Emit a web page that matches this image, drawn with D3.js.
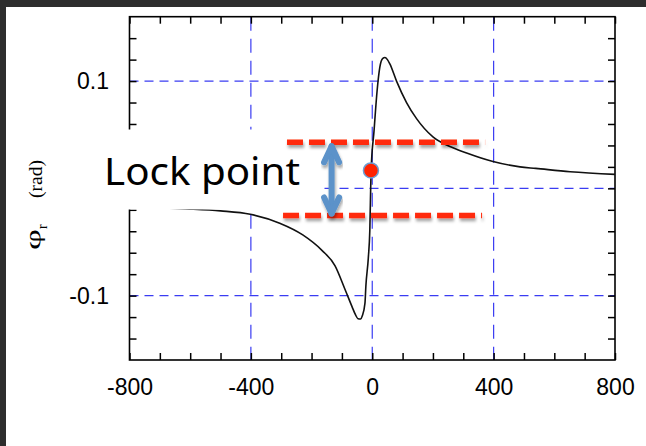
<!doctype html>
<html lang="en">
<head>
<meta charset="UTF-8" />
<title>Lock point</title>
<script src="https://cdn.jsdelivr.net/npm/d3@7"></script>
<style>
  body { margin: 0; background: #2d2d2d; }
  svg { display: block; }
</style>
</head>
<body>
<svg id="chart" width="646" height="446"></svg>
<script>
// error signal: detuning vs phase phi_r (rad)
const detuning = [-800, -700, -632, -500, -402, -305, -229, -165, -123, -90, -67, -55, -47, -38, -33, -24, -21, -13, -8, -4, 6, 16, 25, 34, 42, 50, 58, 80, 113, 146, 200, 256, 311, 398, 487, 539, 652, 800];
const phase = [-0.0165, -0.018, -0.019, -0.021, -0.0242, -0.0325, -0.0434, -0.058, -0.072, -0.094, -0.110, -0.118, -0.1215, -0.1218, -0.119, -0.107, -0.091, -0.065, -0.039, 0.015, 0.054, 0.091, 0.113, 0.121, 0.122, 0.120, 0.116, 0.100, 0.080, 0.065, 0.048, 0.039, 0.033, 0.025, 0.020, 0.0186, 0.0155, 0.013];

const xLabels = [-800, -400, 0, 400, 800];
const yLabels = [-0.1, 0.1];
const xMinor = d3.range(-800, 801, 100);
const yMinor = d3.range(-14, 15, 2).map(d => d / 100);
const gridX = [-400, 0, 400];
const gridY = [-0.1, 0, 0.1];

// annotation: lock band, arrow, lock point
const bandTop = { y: 0.043, x0: -281, x1: 372 };
const bandBottom = { y: -0.0253, x0: -294, x1: 362 };
const arrowX = -134;
const lockPoint = { x: -4.3, y: 0.0167 };

const svg = d3.select("#chart");

// white slide area
svg.append("rect").attr("x", 6).attr("y", 7).attr("width", 640).attr("height", 439).attr("fill", "#fff");

const x = d3.scaleLinear().domain([-800, 800]).range([129.5, 615]);
const y = d3.scaleLinear().domain([-0.16, 0.16]).range([360, 16.7]);

const defs = svg.append("defs");
defs.append("filter").attr("id", "shadow").attr("x", "-20%").attr("y", "-50%").attr("width", "140%").attr("height", "200%")
  .append("feDropShadow").attr("dx", 1).attr("dy", 3).attr("stdDeviation", 1.6)
  .attr("flood-color", "#000").attr("flood-opacity", 0.35);

// grid
svg.append("g").selectAll("line").data(gridX).join("line")
  .attr("x1", d => x(d)).attr("x2", d => x(d))
  .attr("y1", y(0.16)).attr("y2", y(-0.16))
  .attr("stroke", "#3a3cf2").attr("stroke-width", 1.2).attr("stroke-dasharray", "14,8");
svg.append("g").selectAll("line").data(gridY).join("line")
  .attr("x1", x(-800)).attr("x2", x(800))
  .attr("y1", d => y(d)).attr("y2", d => y(d))
  .attr("stroke", "#3a3cf2").attr("stroke-width", 1.2).attr("stroke-dasharray", "9,6");

// inward ticks on all four sides
const tickStyle = g => {
  g.select(".domain").remove();
  g.selectAll(".tick line").attr("stroke", "#000").attr("stroke-width", 1.5);
  g.selectAll(".tick text").remove();
};
svg.append("g").attr("transform", `translate(0,${y(-0.16)})`)
  .call(d3.axisBottom(x).tickValues(xMinor).tickSize(-7)).call(tickStyle);
svg.append("g").attr("transform", `translate(0,${y(0.16)})`)
  .call(d3.axisTop(x).tickValues(xMinor).tickSize(-7)).call(tickStyle);
svg.append("g").attr("transform", `translate(${x(-800)},0)`)
  .call(d3.axisLeft(y).tickValues(yMinor).tickSize(-7)).call(tickStyle);
svg.append("g").attr("transform", `translate(${x(800)},0)`)
  .call(d3.axisRight(y).tickValues(yMinor).tickSize(-7)).call(tickStyle);

// tick labels (plain hyphen minus, as in the original)
const labelStyle = g => {
  g.select(".domain").remove();
  g.selectAll(".tick line").remove();
  g.selectAll(".tick text").attr("fill", "#000")
    .attr("font-family", "'Liberation Sans', Arial, Helvetica, sans-serif").attr("font-size", 23);
};
svg.append("g").attr("transform", `translate(0,${y(-0.16)})`)
  .call(d3.axisBottom(x).tickValues(xLabels).tickSize(0).tickPadding(18.5).tickFormat(d => String(d)))
  .call(labelStyle);
svg.append("g").attr("transform", `translate(${x(-800)},0)`)
  .call(d3.axisLeft(y).tickValues(yLabels).tickSize(0).tickPadding(20.5).tickFormat(d => d.toFixed(1)))
  .call(labelStyle);

// frame
svg.append("rect")
  .attr("x", x(-800)).attr("y", y(0.16))
  .attr("width", x(800) - x(-800)).attr("height", y(-0.16) - y(0.16))
  .attr("fill", "none").attr("stroke", "#000").attr("stroke-width", 1.6);

// signal curve
const points = detuning.map((d, i) => [d, phase[i]]);
const line = d3.line().x(d => x(d[0])).y(d => y(d[1])).curve(d3.curveMonotoneX);
svg.append("path").attr("d", line(points))
  .attr("fill", "none").attr("stroke", "#111").attr("stroke-width", 1.6);

// y axis title: phi_r (rad)
const serif = "'Liberation Serif', 'Times New Roman', serif";
svg.append("text").attr("transform", "translate(40,250) rotate(-90)")
  .attr("font-family", serif).attr("font-size", 22)
  .attr("textLength", 21).attr("lengthAdjust", "spacingAndGlyphs").text("φ");
svg.append("text").attr("transform", "translate(46.5,229) rotate(-90)")
  .attr("font-family", serif).attr("font-size", 14).text("r");
svg.append("text").attr("transform", "translate(42,198) rotate(-90)")
  .attr("font-family", serif).attr("font-size", 18)
  .attr("textLength", 38).attr("lengthAdjust", "spacingAndGlyphs").text("(rad)");

// text box covering the plot
svg.append("rect").attr("x", 95).attr("y", 129.5).attr("width", 227).attr("height", 80).attr("fill", "#fff");
svg.append("text").attr("x", 104).attr("y", 185)
  .attr("font-family", "'Noto Sans', 'Open Sans', sans-serif").attr("font-size", 39)
  .attr("textLength", 196).attr("lengthAdjust", "spacingAndGlyphs")
  .attr("fill", "#000").text("Lock point");

// lock band lines
const bands = svg.append("g").attr("filter", "url(#shadow)");
[bandTop, bandBottom].forEach(b => {
  bands.append("line")
    .attr("x1", x(b.x0)).attr("x2", x(b.x1)).attr("y1", y(b.y)).attr("y2", y(b.y))
    .attr("stroke", "#ff2a08").attr("stroke-width", 5.5).attr("stroke-dasharray", "16,6");
});

// double arrow
const arrow = svg.append("g").attr("filter", "url(#shadow)")
  .attr("stroke", "#5b92c9").attr("stroke-width", 6).attr("fill", "none")
  .attr("stroke-linecap", "round").attr("stroke-linejoin", "round");
const ax = x(arrowX), aTop = y(bandTop.y) + 4, aBot = y(bandBottom.y) - 2;
arrow.append("line").attr("x1", ax).attr("x2", ax).attr("y1", aTop).attr("y2", aBot);
arrow.append("polyline").attr("points", [[ax - 7.5, aTop + 16], [ax, aTop], [ax + 7.5, aTop + 16]].join(" "));
arrow.append("polyline").attr("points", [[ax - 7.5, aBot - 16], [ax, aBot], [ax + 7.5, aBot - 16]].join(" "));

// lock point
svg.append("circle").attr("cx", x(lockPoint.x)).attr("cy", y(lockPoint.y)).attr("r", 7.5)
  .attr("fill", "#ff2200").attr("stroke", "#6c9fd3").attr("stroke-width", 1.5);
</script>
</body>
</html>
